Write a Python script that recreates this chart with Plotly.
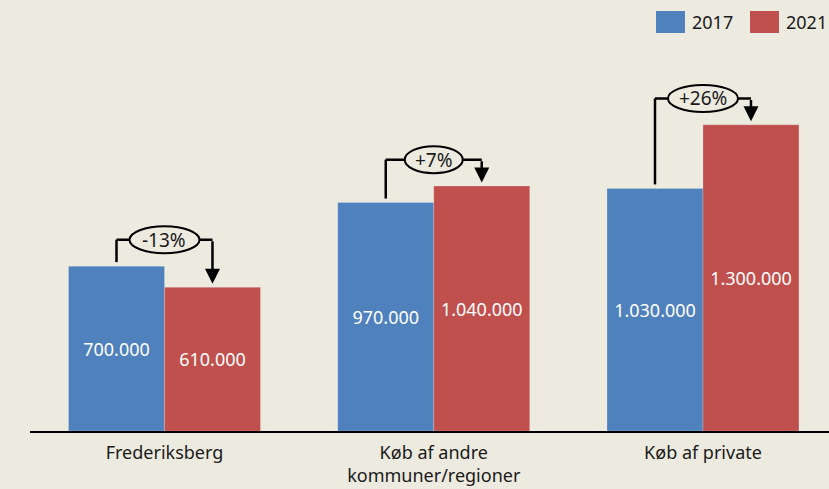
import plotly.graph_objects as go

categories = ["Frederiksberg", "Køb af andre<br>kommuner/regioner", "Køb af private"]
series_names = ["2017", "2021"]
values_2017 = [700000, 970000, 1030000]
values_2021 = [610000, 1040000, 1300000]

BG = "#EDEAE0"
BLUE = "#4F81BD"
RED = "#C0504D"
FONT = "Noto Sans, Open Sans, sans-serif"
TXT = "#1a1a1a"

# layout geometry
W, H = 829, 489
ML, MR, MT, MB = 30, 0, 0, 58
plot_w = W - ML - MR
plot_h = H - MT - MB
x_lo = -0.4995
x_hi = x_lo + plot_w / 269.25
y_max = 1830000
px_x = plot_w / (x_hi - x_lo)      # px per category unit
px_y = plot_h / y_max              # px per value unit
bargap = 0.287
half = (1 - bargap) / 4            # offset of bar centers from category center

xs = list(range(len(categories)))

fig = go.Figure()
fig.add_trace(go.Bar(
    x=xs, y=values_2017, name=series_names[0], marker_color=BLUE,
    marker_line=dict(color="rgba(255,255,255,0.35)", width=0.6),
    texttemplate="%{y:,.0f}", textposition="inside", insidetextanchor="middle",
    textfont=dict(color="white", size=18, family=FONT), showlegend=False,
))
fig.add_trace(go.Bar(
    x=xs, y=values_2021, name=series_names[1], marker_color=RED,
    marker_line=dict(color="rgba(255,255,255,0.35)", width=0.6),
    texttemplate="%{y:,.0f}", textposition="inside", insidetextanchor="middle",
    textfont=dict(color="white", size=18, family=FONT), showlegend=False,
))

shapes = []
annotations = []
line_style = dict(color="black", width=2.5)
for i, (a, b) in enumerate(zip(values_2017, values_2021)):
    pct = round((b / a - 1) * 100)
    label = f"{pct:+d}%"
    xb = i - half
    xr = i + half
    yb = max(a, b) + 112000
    # vertical from blue bar
    shapes.append(dict(type="line", x0=xb, x1=xb, y0=a + 17000, y1=yb,
                       xref="x", yref="y", line=line_style, layer="above"))
    # horizontal bracket
    shapes.append(dict(type="line", x0=xb, x1=xr, y0=yb, y1=yb,
                       xref="x", yref="y", line=line_style, layer="above"))
    # ellipse
    ew = (22 + 12 * len(label)) / px_x
    eh = 27 / px_y
    shapes.append(dict(type="circle", x0=i - ew / 2, x1=i + ew / 2,
                       y0=yb - eh / 2, y1=yb + eh / 2, xref="x", yref="y",
                       fillcolor=BG, line=dict(color="black", width=2), layer="above"))
    annotations.append(dict(x=i, y=yb, text=label, showarrow=False, xref="x", yref="y",
                            font=dict(size=19, family=FONT, color=TXT)))
    # arrow down to red bar
    annotations.append(dict(x=xr, y=b + 15000, ax=xr, ay=yb, axref="x", ayref="y",
                            xref="x", yref="y", text="", showarrow=True,
                            arrowhead=2, arrowsize=1.2, arrowwidth=2.5,
                            arrowcolor="black", standoff=0, startstandoff=0))

# legend (drawn manually to match box size)
leg_items = [(series_names[0], BLUE, 656), (series_names[1], RED, 750)]
for name, col, x0px in leg_items:
    shapes.append(dict(type="rect", xref="paper", yref="paper",
                       x0=(x0px - ML) / plot_w, x1=(x0px + 29 - ML) / plot_w,
                       y0=1 - 33 / plot_h, y1=1 - 11 / plot_h,
                       fillcolor=col, line=dict(width=0), layer="above"))
    annotations.append(dict(xref="paper", yref="paper", x=(x0px + 34 - ML) / plot_w,
                            y=1 - 22 / plot_h, xanchor="left", yanchor="middle",
                            text=name, showarrow=False,
                            font=dict(size=18, family=FONT, color=TXT)))

fig.update_layout(
    width=W, height=H,
    margin=dict(l=ML, r=MR, t=MT, b=MB),
    paper_bgcolor=BG, plot_bgcolor=BG,
    barmode="group", bargap=bargap, bargroupgap=0,
    separators=",.",
    shapes=shapes, annotations=annotations,
    uniformtext=dict(mode=False),
    xaxis=dict(range=[x_lo, x_hi], tickvals=xs, ticktext=categories,
               showline=True, linecolor="black", linewidth=2, showgrid=False,
               zeroline=False, ticks="", ticklabelstandoff=4,
               tickfont=dict(size=18, family=FONT, color=TXT)),
    yaxis=dict(range=[0, y_max], visible=False, showgrid=False, zeroline=False),
    showlegend=False,
)

fig.write_html(
    "out.html",
    config={"displayModeBar": False},
    post_script="document.body.style.margin='0';document.body.style.background='%s';" % BG,
)
